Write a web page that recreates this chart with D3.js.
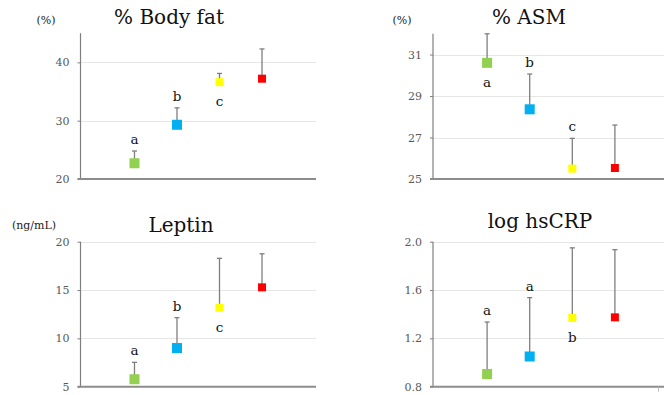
<!DOCTYPE html>
<html>
<head>
<meta charset="utf-8">
<script src="https://cdn.jsdelivr.net/npm/d3@7"></script>
<style>
html,body{margin:0;padding:0;background:#fff;}
svg{display:block;}
</style>
</head>
<body>
<svg id="chart" width="664" height="395"></svg>
<script>
// ---- data ----
const groups = ["G1", "G2", "G3", "G4"];
const groupColors = ["#92D050", "#00B0F0", "#FFFF00", "#FF0000"];
const markerSizes = [10, 10, 8, 8];

const bodyFatMean = [22.7, 29.3, 36.6, 37.2];
const bodyFatErr  = [2.1, 2.9, 1.5, 5.1];
const bodyFatLetters = ["a", "b", "c", ""];
const bodyFatLetterPos = ["above", "above", "below", ""];
const bodyFatTicks = [20, 30, 40];

const asmMean = [30.6, 28.36, 25.5, 25.53];
const asmErr  = [1.4, 1.7, 1.46, 2.07];
const asmLetters = ["a", "b", "c", ""];
const asmLetterPos = ["below", "above", "above", ""];
const asmTicks = [25, 27, 29, 31];

const leptinMean = [5.77, 9.0, 13.17, 15.28];
const leptinErr  = [1.75, 3.14, 5.11, 3.47];
const leptinLetters = ["a", "b", "c", ""];
const leptinLetterPos = ["above", "above", "below", ""];
const leptinTicks = [5, 10, 15, 20];

const crpMean = [0.905, 1.05, 1.369, 1.374];
const crpErr  = [0.43, 0.487, 0.58, 0.56];
const crpLetters = ["a", "a", "b", ""];
const crpLetterPos = ["above", "above", "below", ""];
const crpTicks = [0.8, 1.2, 1.6, 2.0];

const panels = [
  {title: "% Body fat", unit: "(%)", mean: bodyFatMean, err: bodyFatErr, letters: bodyFatLetters, pos: bodyFatLetterPos,
   ticks: bodyFatTicks, domain: [20, 45], fmt: d3.format("d"),
   left: 80.5, right: 316, top: 33.2, bottom: 179, titleX: 169, titleY: 24, unitX: 46, unitY: 24},
  {title: "% ASM", unit: "(%)", mean: asmMean, err: asmErr, letters: asmLetters, pos: asmLetterPos,
   ticks: asmTicks, domain: [25, 32], fmt: d3.format("d"),
   left: 433, right: 669, top: 33.8, bottom: 179, titleX: 529, titleY: 24, unitX: 402, unitY: 24},
  {title: "Leptin", unit: "(ng/mL)", mean: leptinMean, err: leptinErr, letters: leptinLetters, pos: leptinLetterPos,
   ticks: leptinTicks, domain: [5, 20], fmt: d3.format("d"),
   left: 80.5, right: 316, top: 241.7, bottom: 386.7, titleX: 181, titleY: 232, unitX: 34, unitY: 229},
  {title: "log hsCRP", unit: "", mean: crpMean, err: crpErr, letters: crpLetters, pos: crpLetterPos,
   ticks: crpTicks, domain: [0.8, 2.0], fmt: d3.format(".1f"),
   left: 433, right: 669, top: 241.7, bottom: 386.7, titleX: 540, titleY: 228, unitX: 0, unitY: 0}
];

const svg = d3.select("#chart");
const serif = "DejaVu Serif";

panels.forEach((p, pi) => {
  const g = svg.append("g");
  const x = d3.scalePoint().domain(groups).range([p.left, p.right]).padding(1.27);
  const y = d3.scaleLinear().domain(p.domain).range([p.bottom, p.top]);

  // gridlines
  g.selectAll(".grid").data(p.ticks.filter(t => t > p.domain[0]))
    .enter().append("line")
    .attr("x1", p.left).attr("x2", p.right)
    .attr("y1", d => Math.round(y(d)) + 0.5).attr("y2", d => Math.round(y(d)) + 0.5)
    .attr("stroke", "#e6e6e6").attr("stroke-width", 1);

  // y axis
  const ax = g.append("g").attr("transform", `translate(${p.left},0)`)
    .attr("font-family", serif).attr("font-size", 11)
    .call(d3.axisLeft(y).tickValues(p.ticks).tickFormat(p.fmt).tickSize(3).tickPadding(8));
  ax.attr("font-family", serif).attr("font-size", 11);
  ax.select(".domain").attr("stroke", "#7f7f7f").attr("stroke-width", 1.2)
    .attr("d", `M0,${p.top}V${p.bottom}`);
  ax.selectAll(".tick line").attr("stroke", "#7f7f7f");
  ax.selectAll(".tick text").attr("fill", "#595959");

  // x axis baseline
  g.append("line").attr("x1", p.left - 3).attr("x2", p.right)
    .attr("y1", p.bottom).attr("y2", p.bottom)
    .attr("stroke", "#8c8c8c").attr("stroke-width", 2);
  if (pi === 3) {
    g.append("line").attr("x1", 658.5).attr("x2", 658.5)
      .attr("y1", p.bottom).attr("y2", p.bottom + 5)
      .attr("stroke", "#bfbfbf").attr("stroke-width", 1);
  }

  // error bars
  const eb = g.selectAll(".eb").data(groups).enter().append("g");
  eb.append("line")
    .attr("x1", (d) => x(d)).attr("x2", (d) => x(d))
    .attr("y1", (d, i) => y(p.mean[i])).attr("y2", (d, i) => y(p.mean[i] + p.err[i]))
    .attr("stroke", "#7f7f7f").attr("stroke-width", 1.3);
  eb.append("line")
    .attr("x1", (d) => x(d) - 2.5).attr("x2", (d) => x(d) + 2.5)
    .attr("y1", (d, i) => y(p.mean[i] + p.err[i])).attr("y2", (d, i) => y(p.mean[i] + p.err[i]))
    .attr("stroke", "#7f7f7f").attr("stroke-width", 1.3);

  // markers
  g.selectAll(".mk").data(groups).enter().append("rect")
    .attr("x", (d, i) => x(d) - markerSizes[i] / 2)
    .attr("y", (d, i) => y(p.mean[i]) - markerSizes[i] / 2)
    .attr("width", (d, i) => markerSizes[i]).attr("height", (d, i) => markerSizes[i])
    .attr("fill", (d, i) => groupColors[i]);

  // letters
  g.selectAll(".lt").data(groups).enter().append("text")
    .filter((d, i) => p.letters[i] !== "")
    .attr("x", d => x(d))
    .attr("y", (d, i) => {
      const idx = groups.indexOf(d);
      return p.pos[idx] === "above" ? y(p.mean[idx] + p.err[idx]) - 12 : y(p.mean[idx]) + 19;
    })
    .attr("text-anchor", "middle").attr("dominant-baseline", "central")
    .attr("font-family", serif).attr("font-size", 13.5).attr("fill", "#111")
    .text(d => p.letters[groups.indexOf(d)]);

  // title
  g.append("text").attr("x", p.titleX).attr("y", p.titleY)
    .attr("text-anchor", "middle")
    .attr("font-family", serif).attr("font-size", 20).attr("fill", "#111")
    .text(p.title);

  if (p.unit) {
    g.append("text").attr("x", p.unitX).attr("y", p.unitY)
      .attr("text-anchor", "middle")
      .attr("font-family", serif).attr("font-size", 11).attr("fill", "#222")
      .text(p.unit);
  }
});
</script>
</body>
</html>
